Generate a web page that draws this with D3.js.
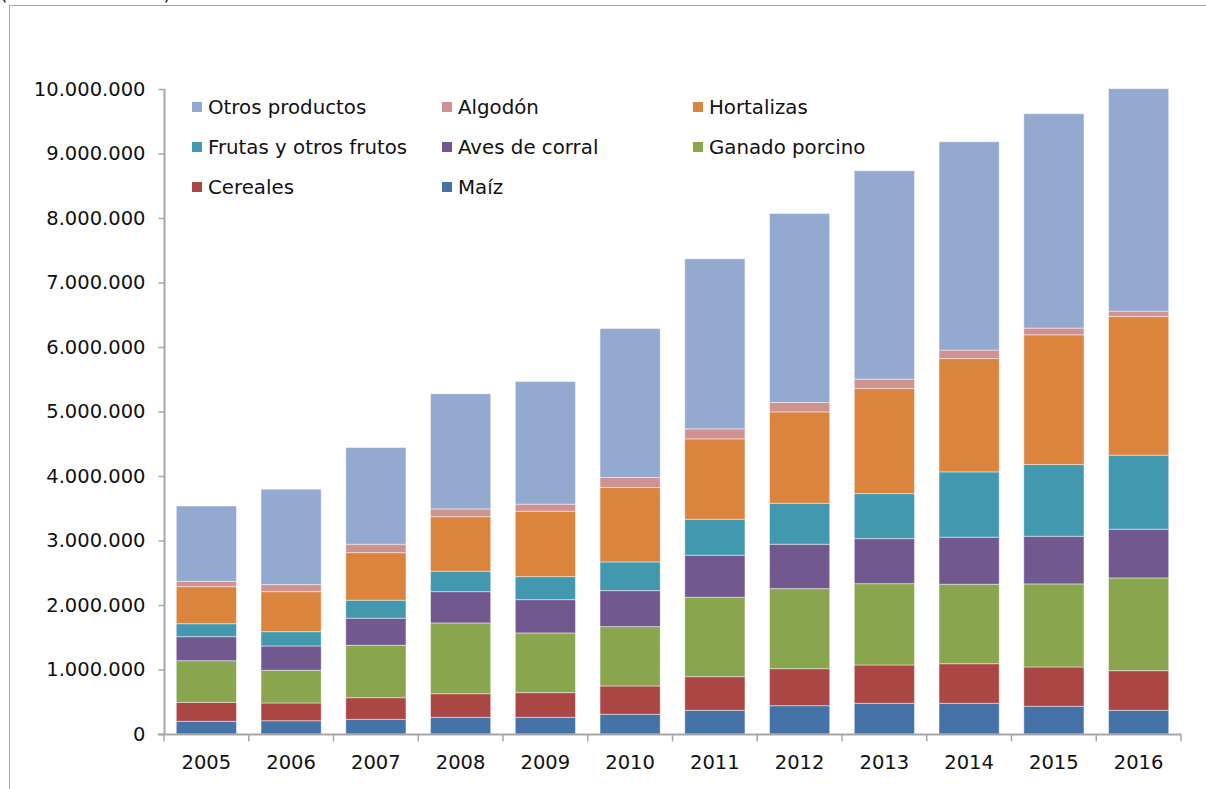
<!DOCTYPE html>
<html>
<head>
<meta charset="utf-8">
<script src="https://cdn.jsdelivr.net/npm/d3@7"></script>
<style>
  body { margin: 0; background: #fff; }
  text { font-family: "DejaVu Sans", Verdana, sans-serif; fill: #111; }
</style>
</head>
<body>
<div class="root"></div>
<script>
// years and series values (thousands), bottom to top of the stack
var years = ['2005','2006','2007','2008','2009','2010','2011','2012','2013','2014','2015','2016'];
var series = ['Maíz','Cereales','Ganado porcino','Aves de corral','Frutas y otros frutos','Hortalizas','Algodón','Otros productos'];
var colors = ['#4572A7','#AA4643','#89A54E','#71588F','#4198AF','#DB843D','#D09291','#93A9CF'];

var maiz      = [197, 206, 228, 259, 259, 306, 368, 439, 476, 476, 430, 368];
var cereales  = [294, 275, 335, 366, 382, 439, 521, 574, 594, 614, 609, 614];
var porcino   = [645, 507, 813, 1097, 926, 920, 1231, 1241, 1261, 1232, 1288, 1438];
var aves      = [373, 377, 419, 485, 516, 558, 652, 688, 698, 729, 739, 755];
var frutas    = [201, 222, 279, 317, 357, 445, 558, 636, 698, 1013, 1111, 1148];
var hortal    = [574, 620, 738, 846, 1014, 1153, 1246, 1416, 1629, 1757, 2012, 2150];
var algodon   = [83, 109, 130, 120, 109, 155, 155, 145, 146, 131, 104, 83];
var otros     = [1168, 1479, 1499, 1784, 1902, 2311, 2637, 2931, 3231, 3230, 3324, 3449];
var yTicks = [0, 1000000, 2000000, 3000000, 4000000, 5000000, 6000000, 7000000, 8000000, 9000000, 10000000];

// legend order as in the picture (row by row, three columns)
var legendOrder = ['Otros productos','Algodón','Hortalizas','Frutas y otros frutos','Aves de corral','Ganado porcino','Cereales','Maíz'];

var values = [maiz, cereales, porcino, aves, frutas, hortal, algodon, otros];
var table = years.map(function(y, i) {
  var row = { year: y };
  series.forEach(function(s, j) { row[s] = values[j][i] * 1000; });
  return row;
});

var w = 1206, h = 789;
var svg = d3.select('.root').append('svg').attr('width', w).attr('height', h);

// frame and the title, which is cut off at the top edge in the original
svg.append('text').attr('x', 0).attr('y', 0).style('font-size', '19px').text('(miles de dólares)');
svg.append('path').attr('d', 'M9.5,789V5.5H1206').attr('fill', 'none').attr('stroke', '#a6a6a6');

var x = d3.scaleBand().domain(years).range([164, 1181]).paddingInner(0.29).paddingOuter(0.145);
var y = d3.scaleLinear().domain([0, 10000000]).range([734, 89]);

var stack = d3.stack().keys(series)(table);

svg.append('g').selectAll('g')
  .data(stack)
  .enter().append('g')
    .attr('fill', function(d, i) { return colors[i]; })
  .selectAll('rect')
    .data(function(d) { return d; })
    .enter().append('rect')
      .attr('x', function(d) { return x(d.data.year); })
      .attr('width', x.bandwidth())
      .attr('y', function(d) { return y(d[1]); })
      .attr('height', function(d) { return y(d[0]) - y(d[1]); })
      .attr('stroke', 'rgba(255,255,255,0.45)')
      .attr('stroke-width', 1);

var fmt = function(v) { return d3.format(',')(v).replace(/,/g, '.'); };

var yAxis = svg.append('g')
  .attr('transform', 'translate(164.5,0)')
  .call(d3.axisLeft(y).tickValues(yTicks).tickFormat(fmt).tickSize(6).tickPadding(13));
yAxis.select('.domain').attr('stroke', '#a6a6a6').attr('stroke-width', 2).attr('d', 'M0,89V734');
yAxis.selectAll('.tick line').attr('stroke', '#a6a6a6').attr('stroke-width', 1.5);
yAxis.selectAll('.tick text').style('font-size', '19.5px').attr('fill', '#111');

var xAxis = svg.append('g').attr('transform', 'translate(0,734.5)');
xAxis.append('line').attr('x1', 158).attr('x2', 1181).attr('stroke', '#a6a6a6').attr('stroke-width', 2);
xAxis.selectAll('.tk')
  .data(years.concat(['end']))
  .enter().append('line')
    .attr('x1', function(d, i) { return 164 + i * x.step(); })
    .attr('x2', function(d, i) { return 164 + i * x.step(); })
    .attr('y1', 0).attr('y2', 7)
    .attr('stroke', '#a6a6a6').attr('stroke-width', 1.5);
xAxis.selectAll('.lbl')
  .data(years)
  .enter().append('text')
    .attr('x', function(d) { return x(d) + x.bandwidth() / 2; })
    .attr('y', 34)
    .attr('text-anchor', 'middle')
    .style('font-size', '19.5px')
    .text(function(d) { return d; });

// legend
var colX = [192, 442, 693];
var legend = svg.append('g').selectAll('g')
  .data(legendOrder)
  .enter().append('g')
    .attr('transform', function(d, i) { return 'translate(' + colX[i % 3] + ',' + (107 + Math.floor(i / 3) * 40) + ')'; });
legend.append('rect')
  .attr('x', 0).attr('y', -5).attr('width', 10).attr('height', 10)
  .attr('fill', function(d) { return colors[series.indexOf(d)]; });
legend.append('text')
  .attr('x', 16).attr('y', 7)
  .style('font-size', '19.8px')
  .text(function(d) { return d; });
</script>
</body>
</html>
